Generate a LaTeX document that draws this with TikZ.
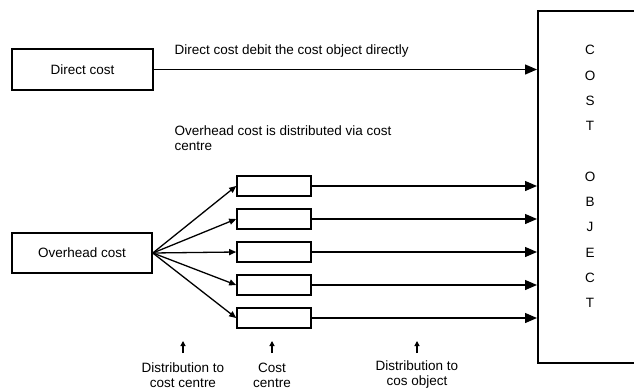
\documentclass[tikz,border=0pt]{standalone}
\usepackage{fontspec}
\setmainfont{Liberation Sans}
\usetikzlibrary{arrows.meta}
\begin{document}
\begin{tikzpicture}[x=1pt,y=-1pt,
  box/.style={draw,line width=1.6pt,inner sep=0pt},
  txt/.style={font=\fontsize{13.5}{15}\selectfont},
  big/.style={line width=1.3pt,-{Triangle[length=12pt,width=10pt]}},
  fan/.style={line width=1.3pt,-{Triangle[length=7pt,width=6pt]}},
  up/.style={line width=1.1pt,-{Triangle[length=5pt,width=5pt]}}]
\useasboundingbox (0,0) rectangle (634,391);
% main boxes
\node[box,minimum width=141pt,minimum height=41pt,txt] (dc) at (82.5,69.5) {Direct cost};
\node[box,minimum width=140pt,minimum height=40pt,txt] (oc) at (82,253) {Overhead cost};
\node[box,minimum width=112pt,minimum height=352pt,anchor=north west] (co) at (537,10) {};
\node[font=\fontsize{13.5}{25.3}\selectfont,align=center] (colbl) at (590,176.5)
  {C\\O\\S\\T\\[25.3pt]O\\B\\J\\E\\C\\T};
% cost centres
\node[box,minimum width=74pt,minimum height=20pt] (c1) at (274,186) {};
\node[box,minimum width=74pt,minimum height=20pt] (c2) at (274,219) {};
\node[box,minimum width=74pt,minimum height=20pt] (c3) at (274,252) {};
\node[box,minimum width=74pt,minimum height=20pt] (c4) at (274,285) {};
\node[box,minimum width=74pt,minimum height=20pt] (c5) at (274,318) {};
% labels
\node[txt,anchor=west] (l1) at (171,51) {Direct cost debit the cost object directly};
\node[txt,anchor=west,align=left] (l2) at (171,138.5) {Overhead cost is distributed via cost\\centre};
% connectors
\draw[big] (dc.east) -- (dc.east -| co.west);
\foreach \i in {1,...,5}{
  \draw[fan] (oc.east) -- (c\i.west);
  \draw[big] (c\i.east) -- (c\i.east -| co.west);
}
% bottom notes
\node[txt,align=center] (b1) at (183,375) {Distribution to\\cost centre};
\node[txt,align=center] (b2) at (272,375) {Cost\\centre};
\node[txt,align=center] (b3) at (417,375) {Distribution to\\cos object};
\coordinate (u1a) at (183,353); \coordinate (u1b) at (183,341);
\coordinate (u2a) at (272,353); \coordinate (u2b) at (272,341);
\coordinate (u3a) at (417,353); \coordinate (u3b) at (417,341);
\draw[up] (u1a) -- (u1b);
\draw[up] (u2a) -- (u2b);
\draw[up] (u3a) -- (u3b);
\end{tikzpicture}
\end{document}
